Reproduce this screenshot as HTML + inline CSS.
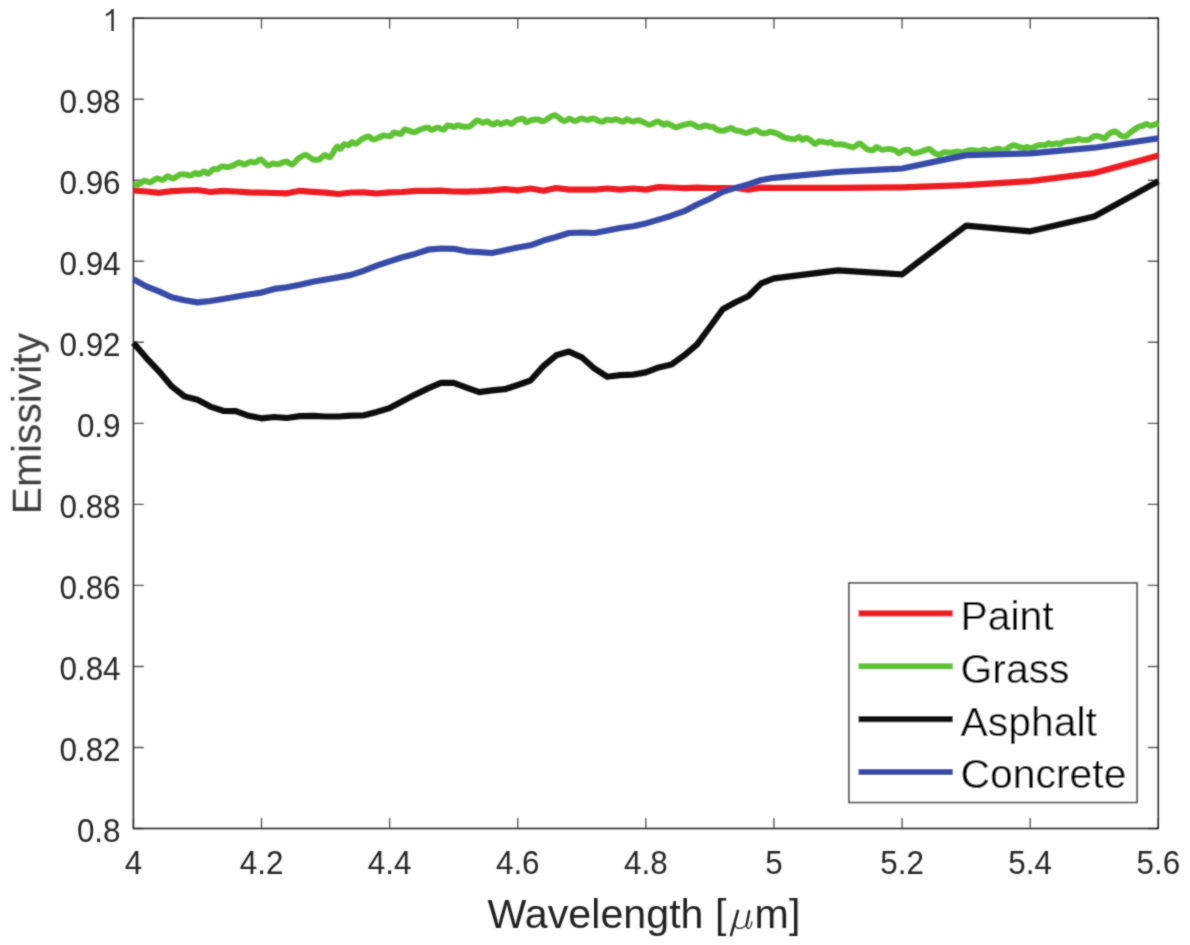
<!DOCTYPE html>
<html><head><meta charset="utf-8"><style>
html,body{margin:0;padding:0;background:#fff;}
svg{display:block;}
text{font-family:"Liberation Sans",sans-serif;}
</style></head><body>
<svg width="1190" height="945" viewBox="0 0 1190 945">
<defs><filter id="bl" filterUnits="userSpaceOnUse" x="0" y="0" width="1190" height="945"><feConvolveMatrix order="3" kernelMatrix="1 2 1 2 10 2 1 2 1" edgeMode="none"/></filter></defs>
<rect x="0" y="0" width="1190" height="945" fill="#fff"/>
<g filter="url(#bl)">
<path d="M133.40,828.5 V818.00 M133.40,18.2 V28.70 M261.51,828.5 V818.00 M261.51,18.2 V28.70 M389.63,828.5 V818.00 M389.63,18.2 V28.70 M517.74,828.5 V818.00 M517.74,18.2 V28.70 M645.85,828.5 V818.00 M645.85,18.2 V28.70 M773.96,828.5 V818.00 M773.96,18.2 V28.70 M902.08,828.5 V818.00 M902.08,18.2 V28.70 M1030.19,828.5 V818.00 M1030.19,18.2 V28.70 M1158.30,828.5 V818.00 M1158.30,18.2 V28.70 M133.4,828.50 H143.90 M1158.3,828.50 H1147.80 M133.4,747.47 H143.90 M1158.3,747.47 H1147.80 M133.4,666.44 H143.90 M1158.3,666.44 H1147.80 M133.4,585.41 H143.90 M1158.3,585.41 H1147.80 M133.4,504.38 H143.90 M1158.3,504.38 H1147.80 M133.4,423.35 H143.90 M1158.3,423.35 H1147.80 M133.4,342.32 H143.90 M1158.3,342.32 H1147.80 M133.4,261.29 H143.90 M1158.3,261.29 H1147.80 M133.4,180.26 H143.90 M1158.3,180.26 H1147.80 M133.4,99.23 H143.90 M1158.3,99.23 H1147.80 M133.4,18.20 H143.90 M1158.3,18.20 H1147.80" stroke="#5a5a5a" stroke-width="1.4" fill="none"/>
<rect x="133.4" y="18.2" width="1024.90" height="810.30" fill="none" stroke="#222222" stroke-width="1.5"/>
<g fill="none" stroke-width="6.2" stroke-linejoin="round" stroke-linecap="butt">
<path d="M133.4,190.3 L146.2,191.5 L159.0,192.8 L171.8,191.1 L184.6,190.5 L197.5,190.0 L210.3,192.0 L223.1,190.8 L235.9,191.5 L248.7,192.3 L261.5,192.6 L274.3,193.0 L287.1,193.3 L299.9,190.8 L312.8,191.8 L325.6,192.6 L338.4,194.0 L351.2,192.5 L364.0,192.3 L376.8,193.5 L389.6,192.3 L402.4,192.0 L415.2,190.8 L428.1,190.8 L440.9,190.6 L453.7,191.5 L466.5,191.6 L479.3,191.1 L492.1,190.3 L504.9,189.1 L517.7,190.4 L530.5,188.5 L543.4,190.8 L556.2,188.0 L569.0,189.6 L581.8,189.6 L594.6,189.6 L607.4,188.5 L620.2,189.6 L633.0,188.5 L645.8,189.6 L658.7,187.1 L671.5,187.5 L684.3,188.1 L697.1,187.6 L709.9,188.0 L722.7,188.0 L735.5,188.0 L748.3,189.6 L761.2,187.6 L774.0,187.8 L838.0,187.8 L902.1,187.4 L966.1,185.1 L1030.2,181.2 L1094.2,173.1 L1158.3,155.6" stroke="#ed1c24"/>
<path d="M133.4,184.3 C134.1,184.3 136.9,184.8 138.4,184.3 C139.9,183.8 142.7,181.1 144.3,180.8 C145.9,180.6 148.5,182.7 150.2,182.4 C151.9,182.1 155.2,178.7 156.9,178.4 C158.6,178.1 161.3,180.2 162.8,179.9 C164.3,179.6 166.5,176.4 167.8,176.2 C169.1,176.1 171.2,178.8 172.9,178.5 C174.6,178.3 178.7,174.9 180.4,174.4 C182.1,173.8 184.2,174.4 185.5,174.5 C186.8,174.7 189.2,175.6 190.5,175.4 C191.8,175.2 194.4,173.2 195.5,173.0 C196.6,172.9 197.8,174.5 198.9,174.3 C200.0,174.1 202.8,171.7 204.0,171.6 C205.2,171.5 207.0,173.8 208.2,173.5 C209.4,173.2 212.0,169.7 213.2,169.1 C214.4,168.6 216.3,169.6 217.4,169.2 C218.5,168.9 220.3,166.8 221.6,166.5 C222.9,166.1 226.0,167.0 227.5,166.9 C229.0,166.8 230.9,166.5 232.5,165.9 C234.1,165.3 237.6,162.6 239.2,162.4 C240.8,162.2 242.8,164.6 244.3,164.6 C245.8,164.5 248.7,162.2 250.2,161.9 C251.7,161.6 253.8,162.8 255.2,162.4 C256.6,162.1 259.1,159.0 260.8,159.4 C262.5,159.8 266.2,164.9 267.8,165.4 C269.4,166.0 271.6,163.7 272.9,163.6 C274.2,163.4 276.1,164.5 277.9,164.2 C279.7,163.9 284.4,161.6 286.3,161.6 C288.2,161.7 290.6,165.0 292.2,164.6 C293.8,164.2 296.3,160.0 298.1,158.8 C299.9,157.5 303.6,154.9 305.6,155.0 C307.6,155.1 311.3,159.0 313.2,159.5 C315.1,160.0 318.4,159.7 319.9,159.1 C321.4,158.5 323.2,155.3 324.6,155.1 C326.0,154.8 328.5,158.1 330.1,157.0 C331.7,155.9 335.5,147.9 336.8,146.8 C338.1,145.8 339.2,149.3 340.2,148.9 C341.2,148.6 343.3,144.8 344.4,144.3 C345.5,143.8 347.6,145.6 348.6,145.3 C349.6,145.0 350.9,142.3 351.9,142.1 C352.9,141.9 354.9,144.1 356.1,143.7 C357.3,143.4 359.5,140.5 361.2,139.6 C362.9,138.6 367.1,136.6 368.7,136.6 C370.3,136.6 371.4,139.5 372.9,139.5 C374.4,139.6 378.2,137.6 379.7,137.1 C381.2,136.5 382.4,135.6 383.9,135.5 C385.4,135.4 389.3,136.6 390.6,136.2 C391.9,135.8 392.7,132.7 394.0,132.4 C395.3,132.1 399.2,134.3 400.7,134.0 C402.2,133.6 403.4,129.8 404.9,129.5 C406.4,129.2 410.1,131.3 411.6,131.7 C413.1,132.0 414.8,132.0 415.8,131.8 C416.8,131.5 417.6,130.5 419.2,130.0 C420.8,129.4 425.9,127.6 427.6,127.6 C429.3,127.6 430.5,129.9 431.8,129.9 C433.1,129.8 436.0,127.4 437.6,127.4 C439.2,127.3 442.2,130.0 443.5,129.7 C444.8,129.5 446.2,125.8 447.7,125.4 C449.2,125.0 453.2,127.0 454.5,126.9 C455.8,126.9 456.7,125.2 457.8,125.2 C458.9,125.1 461.3,126.4 462.9,126.6 C464.5,126.7 467.7,127.2 469.6,126.4 C471.5,125.6 475.3,121.0 477.1,120.5 C478.9,120.0 481.7,122.7 483.0,122.8 C484.3,122.9 485.9,121.2 487.2,121.4 C488.5,121.6 491.8,124.4 493.1,124.5 C494.4,124.6 496.3,122.2 497.3,122.2 C498.3,122.1 499.5,124.2 500.7,124.2 C501.9,124.1 505.1,121.9 506.6,121.9 C508.1,121.9 510.3,124.1 511.6,123.9 C512.9,123.7 515.1,120.8 516.7,120.1 C518.3,119.4 522.2,118.6 523.4,118.9 C524.6,119.2 525.0,122.1 526.0,122.3 C527.0,122.4 529.4,120.6 531.0,120.2 C532.6,119.8 536.0,119.5 537.7,119.6 C539.4,119.7 541.9,121.5 543.6,121.1 C545.3,120.8 548.7,117.8 550.3,117.0 C551.9,116.2 553.6,114.9 555.4,115.4 C557.2,115.9 561.9,120.5 563.8,120.9 C565.7,121.4 568.2,118.6 569.7,118.7 C571.2,118.7 573.1,121.2 574.7,121.1 C576.3,121.1 579.7,118.7 581.4,118.6 C583.1,118.4 585.7,119.9 587.3,119.9 C588.9,119.9 591.3,118.4 593.2,118.6 C595.1,118.8 599.8,121.6 601.6,121.7 C603.4,121.9 605.1,119.9 606.6,119.7 C608.1,119.5 611.3,120.4 612.5,120.3 C613.7,120.3 614.4,119.0 615.9,119.2 C617.4,119.4 621.9,121.7 623.4,121.8 C624.9,121.8 625.6,119.3 626.8,119.3 C628.0,119.3 631.1,121.4 632.7,121.6 C634.3,121.7 637.0,120.1 638.6,120.2 C640.2,120.4 643.0,122.1 644.5,122.7 C646.0,123.3 647.7,125.0 649.5,124.8 C651.3,124.7 656.0,121.6 657.9,121.6 C659.8,121.6 662.6,124.6 663.8,124.8 C665.0,125.1 665.5,122.9 667.1,123.2 C668.7,123.5 673.8,127.0 675.5,127.3 C677.2,127.7 678.4,126.5 679.7,126.1 C681.0,125.7 684.0,124.8 685.6,124.4 C687.2,124.1 689.7,123.2 691.5,123.6 C693.3,124.0 697.3,127.1 699.1,127.3 C700.9,127.6 703.5,125.5 705.0,125.4 C706.5,125.3 709.0,126.5 710.1,126.7 C711.2,126.9 712.5,126.5 713.4,126.9 C714.3,127.2 715.5,129.0 716.8,129.6 C718.1,130.1 721.6,130.9 723.5,130.7 C725.4,130.5 729.5,128.1 731.1,128.0 C732.7,128.0 734.1,129.9 735.3,130.3 C736.5,130.8 738.8,130.8 740.3,131.1 C741.8,131.5 744.2,133.1 746.2,133.0 C748.2,132.8 753.6,130.1 755.5,130.1 C757.4,130.0 759.2,132.1 760.5,132.6 C761.8,133.0 764.2,133.4 765.5,133.3 C766.8,133.2 768.8,131.7 770.6,131.8 C772.4,132.0 777.2,133.7 779.0,134.4 C780.8,135.2 782.0,136.7 784.0,137.4 C786.0,138.0 792.1,139.3 794.1,139.3 C796.1,139.2 798.1,136.9 799.2,137.0 C800.3,137.1 801.6,139.9 802.5,140.0 C803.4,140.1 804.8,137.9 805.9,137.9 C807.0,138.0 809.7,139.6 810.9,140.4 C812.1,141.2 814.0,143.9 815.1,144.0 C816.2,144.1 817.6,141.5 819.3,141.3 C821.0,141.1 826.1,142.7 827.7,142.7 C829.3,142.8 830.2,141.7 831.1,141.9 C832.0,142.1 832.9,143.9 834.5,144.3 C836.1,144.6 840.4,144.1 842.9,144.5 C845.4,144.9 850.7,147.4 852.9,147.3 C855.1,147.2 857.9,143.4 859.7,143.5 C861.5,143.7 864.6,147.8 866.4,148.7 C868.2,149.6 871.8,150.5 873.1,150.3 C874.4,150.1 875.4,147.1 876.5,147.0 C877.6,146.9 879.9,149.4 881.5,149.6 C883.1,149.9 886.4,149.0 888.2,149.1 C890.0,149.2 893.5,149.8 895.0,150.3 C896.5,150.9 898.3,153.1 899.4,153.2 C900.5,153.2 901.6,151.0 902.9,150.6 C904.2,150.1 907.5,149.5 908.8,149.8 C910.1,150.2 911.6,152.9 912.9,153.3 C914.2,153.6 916.7,152.8 918.2,152.4 C919.7,152.1 922.6,151.0 924.1,150.5 C925.6,150.0 928.1,148.7 929.4,149.0 C930.7,149.2 932.2,151.6 933.5,152.4 C934.8,153.2 938.1,155.0 939.4,155.0 C940.7,155.0 941.9,152.7 943.5,152.4 C945.1,152.1 949.4,152.8 951.2,152.7 C953.0,152.5 955.5,151.5 957.1,151.5 C958.7,151.4 961.0,152.4 962.9,152.2 C964.8,152.1 969.0,150.2 971.2,150.1 C973.4,149.9 977.7,151.1 979.4,151.1 C981.1,151.0 982.8,149.6 984.1,149.6 C985.4,149.6 986.9,151.2 988.8,151.1 C990.7,151.0 996.3,148.9 998.2,148.8 C1000.1,148.7 1001.6,150.5 1002.9,150.4 C1004.2,150.4 1006.3,149.2 1007.6,148.5 C1008.9,147.8 1011.5,145.4 1012.9,145.2 C1014.3,144.9 1016.8,146.2 1018.2,146.6 C1019.6,147.0 1022.3,148.1 1023.5,148.1 C1024.7,148.2 1026.1,147.0 1027.1,146.9 C1028.1,146.9 1029.6,148.3 1031.2,148.0 C1032.8,147.8 1037.0,145.5 1038.8,145.1 C1040.6,144.7 1043.4,145.4 1044.7,145.2 C1046.0,145.0 1047.9,143.4 1048.8,143.3 C1049.7,143.2 1050.8,144.4 1051.8,144.4 C1052.8,144.4 1055.4,143.3 1056.5,143.3 C1057.6,143.2 1058.9,144.2 1060.0,144.0 C1061.1,143.8 1062.8,142.1 1064.7,141.6 C1066.6,141.2 1072.2,140.9 1074.1,140.5 C1076.0,140.2 1077.7,139.2 1078.8,139.1 C1079.9,139.0 1081.0,140.0 1082.4,140.0 C1083.8,140.1 1087.8,139.8 1089.4,139.3 C1091.0,138.8 1092.7,136.6 1094.1,136.3 C1095.5,135.9 1098.6,136.3 1100.0,136.6 C1101.4,136.9 1103.6,138.7 1104.7,138.4 C1105.8,138.1 1106.8,135.3 1108.2,134.4 C1109.6,133.5 1113.6,131.5 1115.3,131.6 C1117.0,131.8 1119.8,135.1 1121.2,135.7 C1122.6,136.3 1124.5,136.8 1125.9,136.2 C1127.3,135.6 1130.1,132.6 1131.8,131.3 C1133.5,130.1 1137.4,127.4 1138.8,126.7 C1140.2,125.9 1141.4,126.3 1142.4,125.9 C1143.4,125.6 1145.4,124.0 1146.5,124.0 C1147.6,124.0 1149.0,125.8 1150.6,125.7 C1152.2,125.6 1157.3,123.5 1158.3,123.2" stroke="#5fc234" stroke-width="6.0"/>
<path d="M133.4,342.7 L146.2,357.8 L159.0,371.3 L171.8,386.4 L184.6,396.5 L197.5,399.8 L210.3,406.6 L223.1,410.8 L235.9,411.1 L248.7,415.8 L261.5,418.3 L274.3,417.0 L287.1,418.0 L299.9,416.1 L312.8,415.8 L325.6,416.5 L338.4,416.5 L351.2,415.6 L364.0,415.3 L376.8,411.9 L389.6,408.1 L402.4,401.3 L415.2,394.6 L428.1,388.4 L440.9,382.9 L453.7,382.9 L466.5,387.6 L479.3,392.1 L492.1,390.4 L504.9,389.2 L517.7,385.0 L530.5,380.5 L543.4,366.2 L556.2,355.3 L569.0,351.6 L581.8,357.3 L594.6,368.7 L607.4,376.8 L620.2,375.1 L633.0,374.6 L645.8,372.4 L658.7,367.4 L671.5,364.5 L684.3,355.3 L697.1,344.4 L709.9,327.0 L722.7,309.2 L735.5,302.2 L748.3,296.3 L761.2,283.4 L774.0,278.3 L838.0,270.3 L902.1,274.4 L966.1,225.6 L1030.2,231.3 L1094.2,216.5 L1158.3,181.3" stroke="#111111"/>
<path d="M133.4,279.2 L146.2,286.4 L159.0,291.4 L171.8,297.3 L184.6,300.3 L197.5,302.4 L210.3,301.0 L223.1,299.0 L235.9,296.8 L248.7,294.5 L261.5,292.6 L274.3,288.9 L287.1,287.2 L299.9,284.7 L312.8,281.8 L325.6,279.5 L338.4,277.4 L351.2,274.9 L364.0,270.7 L376.8,265.6 L389.6,261.4 L402.4,257.2 L415.2,253.9 L428.1,249.7 L440.9,248.5 L453.7,248.8 L466.5,251.3 L479.3,252.2 L492.1,253.0 L504.9,250.2 L517.7,247.5 L530.5,245.3 L543.4,240.6 L556.2,236.9 L569.0,233.0 L581.8,232.5 L594.6,233.0 L607.4,230.5 L620.2,228.0 L633.0,226.3 L645.8,223.4 L658.7,219.6 L671.5,215.7 L684.3,211.2 L697.1,204.5 L709.9,198.7 L722.7,191.8 L735.5,187.9 L748.3,184.5 L761.2,180.0 L774.0,177.8 L838.0,171.9 L902.1,168.5 L966.1,155.1 L1030.2,153.3 L1094.2,147.7 L1158.3,138.4" stroke="#374ca8"/>
</g>
<text transform="translate(133.40,874.0) scale(0.925,1)" font-size="34" fill="#262626" text-anchor="middle">4</text>
<text transform="translate(261.51,874.0) scale(0.925,1)" font-size="34" fill="#262626" text-anchor="middle">4.2</text>
<text transform="translate(389.63,874.0) scale(0.925,1)" font-size="34" fill="#262626" text-anchor="middle">4.4</text>
<text transform="translate(517.74,874.0) scale(0.925,1)" font-size="34" fill="#262626" text-anchor="middle">4.6</text>
<text transform="translate(645.85,874.0) scale(0.925,1)" font-size="34" fill="#262626" text-anchor="middle">4.8</text>
<text transform="translate(773.96,874.0) scale(0.925,1)" font-size="34" fill="#262626" text-anchor="middle">5</text>
<text transform="translate(902.08,874.0) scale(0.925,1)" font-size="34" fill="#262626" text-anchor="middle">5.2</text>
<text transform="translate(1030.19,874.0) scale(0.925,1)" font-size="34" fill="#262626" text-anchor="middle">5.4</text>
<text transform="translate(1158.30,874.0) scale(0.925,1)" font-size="34" fill="#262626" text-anchor="middle">5.6</text>
<text transform="translate(120.6,841.80) scale(0.925,1)" font-size="34" fill="#262626" text-anchor="end">0.8</text>
<text transform="translate(120.6,760.77) scale(0.925,1)" font-size="34" fill="#262626" text-anchor="end">0.82</text>
<text transform="translate(120.6,679.74) scale(0.925,1)" font-size="34" fill="#262626" text-anchor="end">0.84</text>
<text transform="translate(120.6,598.71) scale(0.925,1)" font-size="34" fill="#262626" text-anchor="end">0.86</text>
<text transform="translate(120.6,517.68) scale(0.925,1)" font-size="34" fill="#262626" text-anchor="end">0.88</text>
<text transform="translate(120.6,436.65) scale(0.925,1)" font-size="34" fill="#262626" text-anchor="end">0.9</text>
<text transform="translate(120.6,355.62) scale(0.925,1)" font-size="34" fill="#262626" text-anchor="end">0.92</text>
<text transform="translate(120.6,274.59) scale(0.925,1)" font-size="34" fill="#262626" text-anchor="end">0.94</text>
<text transform="translate(120.6,193.56) scale(0.925,1)" font-size="34" fill="#262626" text-anchor="end">0.96</text>
<text transform="translate(120.6,112.53) scale(0.925,1)" font-size="34" fill="#262626" text-anchor="end">0.98</text>
<path d="M111.4,30.9 L113.7,30.9 L113.7,8.9 L111.9,8.9 C111.0,10.7 109.0,12.5 105.7,13.9 L105.9,16.1 C108.4,15.3 110.3,14.2 111.4,12.8 Z" fill="#262626"/>
<text transform="translate(40.8,423.6) rotate(-90) scale(0.9831325301204819,1)" font-size="41.5" fill="#3d3d3d" text-anchor="middle">Emissivity</text>
<text transform="translate(487.5,927.8) scale(0.9927710843373495,1)" font-size="41.5" fill="#242424">Wavelength [</text>
<text transform="translate(754.6,927.8) scale(0.9927710843373495,1)" font-size="41.5" fill="#242424">m]</text>
<g fill="none" stroke="#242424" stroke-linecap="round">
<path d="M737.9,910.9 L731.1,935.2" stroke-width="2.5"/>
<path d="M734.6,922.5 C734.6,926.8 736.8,928.4 739.6,928.4 C742.6,928.4 745.3,926.2 746.8,923.5" stroke-width="1.3"/>
<path d="M749.3,911.1 L746.8,923.5" stroke-width="2.3"/>
<path d="M746.8,923.5 C746.3,926.2 746.7,928.4 748.5,928.4 C750.4,928.4 751.4,925 751.9,922" stroke-width="1.3"/>
</g>
<rect x="849" y="583" width="288" height="219.5" fill="#fff" stroke="#3a3a3a" stroke-width="1.5"/>
<line x1="858.5" y1="613.40" x2="952.8" y2="613.40" stroke="#ed1c24" stroke-width="6.2"/>
<text transform="translate(960.5,629.80) scale(0.9850602409638555,1)" font-size="41.5" fill="#000">Paint</text>
<line x1="858.5" y1="666.27" x2="952.8" y2="666.27" stroke="#5fc234" stroke-width="6.2"/>
<text transform="translate(960.5,682.67) scale(0.9850602409638555,1)" font-size="41.5" fill="#000">Grass</text>
<line x1="858.5" y1="719.14" x2="952.8" y2="719.14" stroke="#111111" stroke-width="6.2"/>
<text transform="translate(960.5,735.54) scale(0.9850602409638555,1)" font-size="41.5" fill="#000">Asphalt</text>
<line x1="858.5" y1="772.01" x2="952.8" y2="772.01" stroke="#374ca8" stroke-width="6.2"/>
<text transform="translate(960.5,788.41) scale(0.9850602409638555,1)" font-size="41.5" fill="#000">Concrete</text>
</g></svg></body></html>
